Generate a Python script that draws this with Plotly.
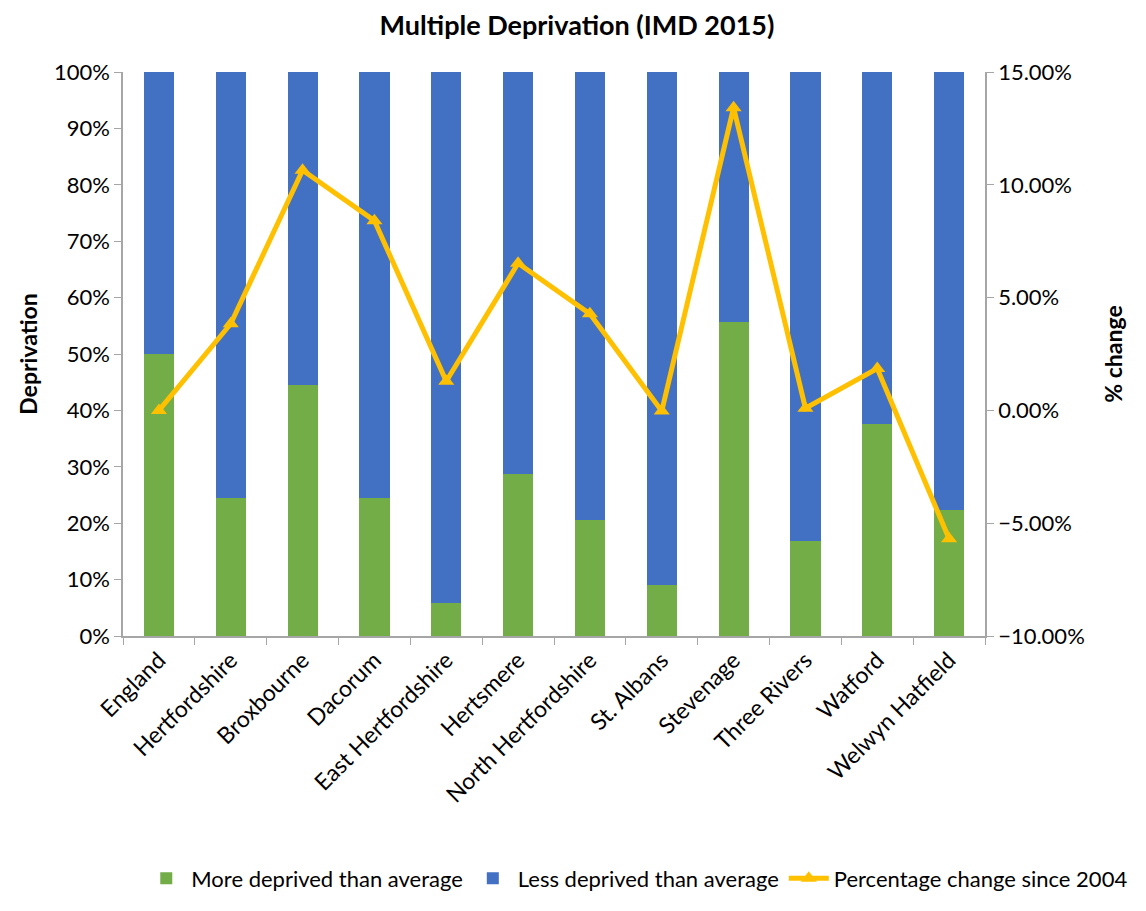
import plotly.graph_objects as go

# data
areas = ['England', 'Hertfordshire', 'Broxbourne', 'Dacorum', 'East Hertfordshire',
         'Hertsmere', 'North Hertfordshire', 'St. Albans', 'Stevenage', 'Three Rivers',
         'Watford', 'Welwyn Hatfield']
more_deprived = [0.50, 0.244, 0.445, 0.244, 0.058, 0.287, 0.206, 0.091, 0.557, 0.169, 0.376, 0.223]
less_deprived = [round(1 - v, 3) for v in more_deprived]
pct_change = [0.0, 0.0384, 0.1065, 0.0841, 0.0129, 0.0652, 0.0428, -0.0003, 0.1342, 0.001, 0.0186, -0.0569]

font_family = 'Lato, Open Sans, sans-serif'

fig = go.Figure()

fig.add_trace(go.Bar(x=areas, y=more_deprived, name='More deprived than average',
                     marker=dict(color='#72ad47', line=dict(width=0))))
fig.add_trace(go.Bar(x=areas, y=less_deprived, name='Less deprived than average',
                     marker=dict(color='#4270c2', line=dict(width=0))))
fig.add_trace(go.Scatter(x=areas, y=pct_change, name='Percentage change since 2004',
                         yaxis='y2', mode='lines+markers',
                         line=dict(color='#ffc000', width=5),
                         marker=dict(symbol='triangle-up', size=14, color='#ffc000')))

# page body adds an 8px offset, so the figure is 8px smaller than the window
fig.update_layout(
    width=1138, height=903,
    paper_bgcolor='white', plot_bgcolor='white',
    font=dict(family=font_family, size=22, color='black'),
    title=dict(text='<b>Multiple Deprivation (IMD 2015)</b>', x=0.5, xanchor='center',
               y=0.981, yanchor='middle', font=dict(size=27)),
    barmode='stack', bargap=0.58,
    margin=dict(l=115, r=161, t=64, b=270),
    xaxis=dict(range=[-0.5, len(areas) - 0.5], tickangle=-45, showline=True,
               linecolor='#a6a6a6', linewidth=1.5,
               ticks='outside', tickson='boundaries', tickcolor='#a6a6a6', ticklen=7,
               showgrid=False, automargin=False, tickfont=dict(size=23)),
    yaxis=dict(range=[0, 1], tickformat='.0%', dtick=0.1, showline=True,
               linecolor='#a6a6a6', linewidth=1.5, ticks='outside', tickcolor='#a6a6a6',
               ticklen=7, showgrid=False, zeroline=False, automargin=False,
               title=dict(text='<b>Deprivation</b>', font=dict(size=23), standoff=10)),
    yaxis2=dict(range=[-0.10, 0.15], tickformat='.2%', dtick=0.05, overlaying='y',
                side='right', showline=True, linecolor='#a6a6a6', linewidth=1.5,
                ticks='outside', tickcolor='#a6a6a6', ticklen=7, showgrid=False,
                zeroline=False, automargin=False,
                title=dict(text='<b>% change</b>', font=dict(size=23), standoff=22)),
    legend=dict(orientation='h', x=1.172, xanchor='right',
                y=-0.43, yanchor='middle', font=dict(size=22), traceorder='normal',
                itemwidth=40),
)

fig.write_html('out.html')
